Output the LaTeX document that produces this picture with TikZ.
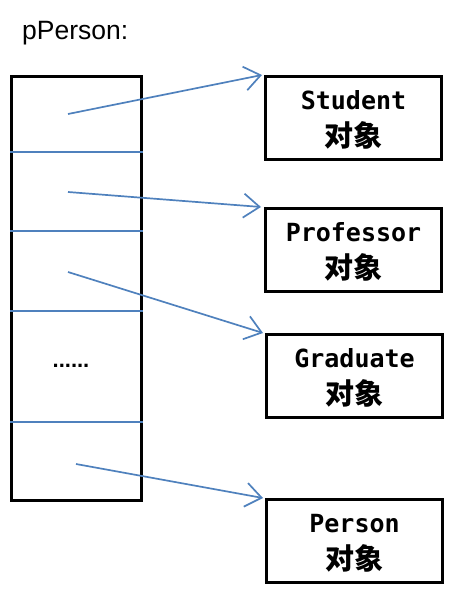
\documentclass[tikz,border=0pt]{standalone}
\usepackage{fontspec}
\setmainfont{Liberation Sans}
\newfontfamily\cjkfont{Noto Sans CJK SC}
\newfontfamily\monofont{DejaVu Sans Mono}
\usetikzlibrary{arrows.meta}
\definecolor{lineblue}{RGB}{79,129,189}
\tikzset{
  objbox/.style={draw=black, line width=3pt, minimum width=176pt, minimum height=83pt, anchor=north west, inner sep=0pt},
  objlabel/.style={align=center, inner sep=0pt, font=\fontsize{25}{37}\selectfont},
  ptr/.style={draw=lineblue, line width=1.7pt, -{Straight Barb[length=16pt,width=24pt,line width=1.7pt]}},
  divider/.style={draw=lineblue, line width=1.7pt}
}
\newcommand{\objtext}[1]{{\monofont\bfseries #1}\\{\fontsize{29}{37}\selectfont\cjkfont\bfseries 对象}}
\begin{document}
\begin{tikzpicture}[x=1pt,y=-1pt]
\useasboundingbox (0,0) rectangle (460,593);
\node[anchor=base west, font=\fontsize{26.5}{30}\selectfont, inner sep=0pt] (title) at (22,40) {pPerson:};
% column
\node[draw=black, line width=3pt, minimum width=130pt, minimum height=424pt, anchor=north west, inner sep=0pt] (col) at (10,75) {};
\draw[divider] (col.west |- 0,152) -- (col.east |- 0,152);
\draw[divider] (col.west |- 0,231) -- (col.east |- 0,231);
\draw[divider] (col.west |- 0,311) -- (col.east |- 0,311);
\draw[divider] (col.west |- 0,422) -- (col.east |- 0,422);
\node[font=\fontsize{22}{24}\selectfont\bfseries, inner sep=0pt] (dots) at (71,366) {......};
% objects
\node[objbox] (student) at (264,75) {};
\node[objbox] (professor) at (264,207) {};
\node[objbox] (graduate) at (265,333) {};
\node[objbox] (person) at (265,498) {};
\node[objlabel] (lstudent) at ([yshift=-2pt]student.center) {\objtext{Student}};
\node[objlabel] (lprofessor) at ([yshift=-2pt]professor.center) {\objtext{Professor}};
\node[objlabel] (lgraduate) at ([yshift=-2pt]graduate.center) {\objtext{Graduate}};
\node[objlabel] (lperson) at ([yshift=-2pt]person.center) {\objtext{Person}};
% pointers
\coordinate (s1) at (68,114);
\coordinate (s2) at (68,192);
\coordinate (s3) at (68,272);
\coordinate (s4) at (76,464);
\draw[ptr] (s1) -- ([xshift=-2pt]student.north west);
\draw[ptr] (s2) -- ([xshift=-3pt]professor.north west);
\draw[ptr] (s3) -- ([xshift=-2pt]graduate.north west);
\draw[ptr] (s4) -- ([xshift=-2pt]person.north west);
\end{tikzpicture}
\end{document}
